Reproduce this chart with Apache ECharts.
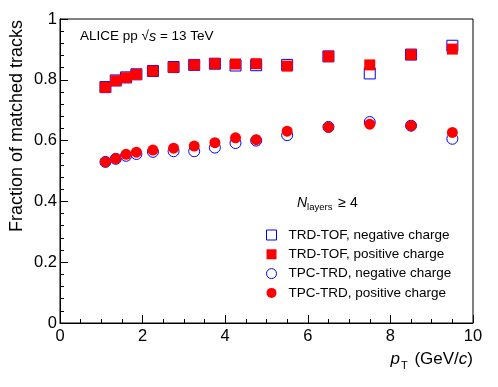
<!DOCTYPE html>
<html lang="en">
  <head>
    <meta charset="utf-8" />
    <title>Fraction of matched tracks</title>
    <script src="https://cdn.jsdelivr.net/npm/echarts@6/dist/echarts.min.js"></script>
    <style>
      body { margin: 0; background: #fff; }
    </style>
  </head>
  <body>
    <div id="main" style="width: 498px; height: 387px"></div>
    <script>
      // pT bin centres (GeV/c)
      var ptBins = [1.1, 1.35, 1.6, 1.85, 2.25, 2.75, 3.25, 3.75, 4.25, 4.75, 5.5, 6.5, 7.5, 8.5, 9.5];

      // fractions
      var trdTofNeg = [0.776, 0.798, 0.808, 0.818, 0.829, 0.842, 0.849, 0.853, 0.847, 0.848, 0.849, 0.877, 0.821, 0.883, 0.912];
      var trdTofPos = [0.775, 0.797, 0.807, 0.818, 0.829, 0.841, 0.849, 0.853, 0.852, 0.853, 0.845, 0.877, 0.849, 0.883, 0.901];
      var tpcTrdNeg = [0.530, 0.540, 0.550, 0.556, 0.563, 0.565, 0.565, 0.577, 0.592, 0.600, 0.618, 0.645, 0.661, 0.649, 0.606];
      var tpcTrdPos = [0.530, 0.541, 0.555, 0.562, 0.569, 0.575, 0.582, 0.593, 0.609, 0.603, 0.631, 0.644, 0.654, 0.649, 0.627];

      var seriesNames = [
        "TRD-TOF, negative charge",
        "TRD-TOF, positive charge",
        "TPC-TRD, negative charge",
        "TPC-TRD, positive charge",
      ];

      function pairs(ys) {
        return ptBins.map(function (x, i) {
          return [x, ys[i]];
        });
      }

      var font = "Liberation Sans";
      var openStyle = { color: "#fff", borderColor: "#0000ff", borderWidth: 1, opacity: 1 };
      var fullStyle = { color: "#ff0000", borderWidth: 0, opacity: 1 };

      var myChart = echarts.init(document.getElementById("main"));

      var option = {
        animation: false,
        textStyle: { fontFamily: font },
        grid: { left: 60, right: 25, top: 19, bottom: 64, show: true, borderColor: "#000", borderWidth: 1 },
        xAxis: {
          type: "value",
          min: 0,
          max: 10,
          interval: 2,
          axisLine: { lineStyle: { color: "#000" } },
          axisTick: { inside: true, length: 8, lineStyle: { color: "#000" } },
          minorTick: { show: true, splitNumber: 4, length: 4, lineStyle: { color: "#000" } },
          splitLine: { show: false },
          axisLabel: { color: "#000", fontSize: 16.5, margin: 5 },
        },
        yAxis: {
          type: "value",
          min: 0,
          max: 1,
          interval: 0.2,
          axisLine: { show: true, lineStyle: { color: "#000" } },
          axisTick: { show: true, inside: true, length: 8, lineStyle: { color: "#000" } },
          minorTick: { show: true, splitNumber: 5, length: 4, lineStyle: { color: "#000" } },
          splitLine: { show: false },
          axisLabel: { color: "#000", fontSize: 16.5, margin: 3 },
        },
        legend: {
          orient: "vertical",
          left: 261,
          top: 223,
          itemWidth: 10,
          itemHeight: 10,
          itemGap: 5.3,
          textStyle: { fontSize: 13.5, color: "#000", fontFamily: font, padding: [0, 0, 0, 7] },
          data: [
            { name: seriesNames[0], icon: "rect", itemStyle: openStyle },
            { name: seriesNames[1], icon: "rect", itemStyle: fullStyle },
            { name: seriesNames[2], icon: "circle", itemStyle: openStyle },
            { name: seriesNames[3], icon: "circle", itemStyle: fullStyle },
          ],
        },
        graphic: [
          {
            type: "text",
            left: 80,
            top: 29,
            style: {
              text: "ALICE pp √{i|s} = 13 TeV",
              font: "13.5px " + font,
              fill: "#000",
              rich: { i: { fontStyle: "italic", fontSize: 14.5, fontFamily: font } },
            },
          },
          {
            type: "text",
            left: 297,
            top: 196,
            style: {
              text: "{i|N}{s|layers} ≥ 4",
              font: "14px " + font,
              fill: "#000",
              rich: {
                i: { fontStyle: "italic", fontSize: 14, fontFamily: font },
                s: { fontSize: 9.5, fontFamily: font, padding: [9, 2, 0, 0] },
              },
            },
          },
          {
            type: "text",
            right: 25,
            top: 351,
            style: {
              text: "{i|p}{s|T} (GeV/{i|c})",
              font: "17px " + font,
              fill: "#000",
              rich: {
                i: { fontStyle: "italic", fontSize: 17, fontFamily: font },
                s: { fontSize: 11, fontFamily: font, padding: [12, 2, 0, 1] },
              },
            },
          },
          {
            type: "text",
            x: 17,
            y: 20,
            rotation: Math.PI / 2,
            style: {
              text: "Fraction of matched tracks",
              font: "18px " + font,
              fill: "#000",
              align: "right",
              verticalAlign: "middle",
            },
          },
        ],
        series: [
          {
            name: seriesNames[0],
            type: "scatter",
            symbol: "rect",
            symbolSize: 11,
            itemStyle: openStyle,
            data: pairs(trdTofNeg),
            z: 2,
          },
          {
            name: seriesNames[1],
            type: "scatter",
            symbol: "rect",
            symbolSize: 11,
            itemStyle: fullStyle,
            data: pairs(trdTofPos),
            z: 3,
          },
          {
            name: seriesNames[2],
            type: "scatter",
            symbol: "circle",
            symbolSize: 11,
            itemStyle: openStyle,
            data: pairs(tpcTrdNeg),
            z: 2,
          },
          {
            name: seriesNames[3],
            type: "scatter",
            symbol: "circle",
            symbolSize: 11,
            itemStyle: fullStyle,
            data: pairs(tpcTrdPos),
            z: 3,
          },
        ],
      };

      myChart.setOption(option);
    </script>
  </body>
</html>
